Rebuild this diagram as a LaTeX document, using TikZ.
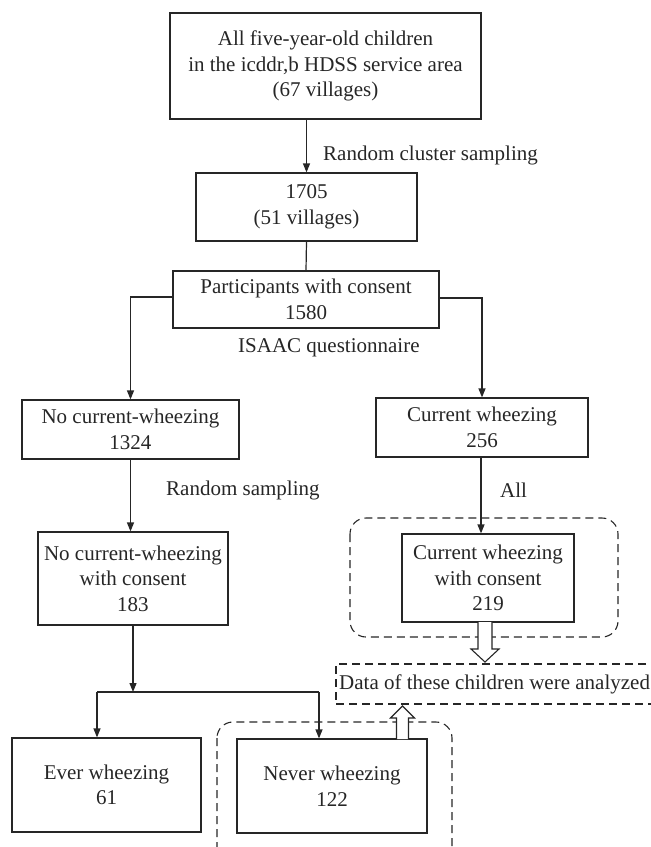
\documentclass[tikz,border=0pt]{standalone}
\usepackage{fontspec}
\setmainfont{Liberation Serif}
\usetikzlibrary{arrows.meta,calc}
\begin{document}
\begin{tikzpicture}[x=1pt,y=-1pt,
  every node/.style={font=\fontsize{21}{25.5}\selectfont,text=black!85},
  box/.style={draw=black!85,line width=1.2pt,align=center,inner sep=0pt},
  lbl/.style={inner sep=0pt,anchor=west},
  conn/.style={draw=black!85,line width=1.2pt},
  arr/.style={draw=black!85,line width=1.2pt,-{Triangle[length=9pt,width=7pt]}},
  dbox/.style={draw=black!85,line width=1.1pt,dash pattern=on 8pt off 5pt,rounded corners=16pt},
  hollow/.style={draw=black!85,line width=1.1pt,fill=white}]
\clip (0,0) rectangle (651,847);
\useasboundingbox (0,0) rectangle (651,847);
% boxes
\node[box,minimum width=311pt,minimum height=106pt] (top) at (325.5,66) {All five-year-old children\\in the icddr,b HDSS service area\\(67 villages)};
\node[box,minimum width=221pt,minimum height=68pt] (n1705) at (306.5,207) {1705\\(51 villages)};
\node[box,minimum width=266pt,minimum height=57pt] (part) at (306,299.5) {Participants with consent\\1580};
\node[box,minimum width=217pt,minimum height=59pt] (nocw) at (130.5,429.5) {No current-wheezing\\1324};
\node[box,minimum width=212pt,minimum height=59pt] (cw) at (482,427.5) {Current wheezing\\256};
\node[box,minimum width=190pt,minimum height=93pt] (nocwc) at (133,578.5) {No current-wheezing\\with consent\\183};
\node[box,minimum width=172pt,minimum height=88pt] (cwc) at (488,578) {Current wheezing\\with consent\\219};
\node[box,minimum width=189pt,minimum height=94pt] (ever) at (106.5,785) {Ever wheezing\\61};
\node[box,minimum width=190pt,minimum height=94pt] (never) at (332,786) {Never wheezing\\122};
% dashed groupings
\draw[dbox] (350,518) rectangle (618,637);
\draw[dbox] (217,722) rectangle (452,870);
\node[draw=black!85,line width=1.1pt,dash pattern=on 8pt off 5pt,minimum width=330pt,minimum height=40pt,inner sep=0pt] (data) at (501,684) {};
\node[lbl] (datat) at (339,684) {Data of these children were analyzed};
% labels
\node[lbl] (l1) at (323,155) {Random cluster sampling};
\node[lbl] (l2) at (238,348) {ISAAC questionnaire};
\node[lbl] (l3) at (166,490) {Random sampling};
\node[lbl] (l4) at (500,490) {All};
% connectors
\draw[arr] (top.south -| n1705.north) -- (n1705.north);
\draw[conn] (n1705.south) -- (part.north);
\draw[arr] ([yshift=2.5pt]part.west) -| (nocw.north);
\draw[arr] ([yshift=1.5pt]part.east) -| (cw.north);
\draw[arr] (nocw.south) -- (nocw.south |- nocwc.north);
\draw[arr] ([xshift=-1pt]cw.south) -- ([xshift=-1pt]cw.south |- cwc.north);
\coordinate (br) at (133,692);
\coordinate (bl) at (97,692);
\coordinate (bR) at (319,692);
\draw[arr] (nocwc.south) -- (br);
\draw[conn] (bl) -- (bR);
\draw[arr] (bl) -- (bl |- ever.north);
\draw[arr] (bR) -- (bR |- never.north);
% hollow arrows
\coordinate (ha) at (485,622);
\coordinate (hb) at (402.5,739);
\draw[hollow] ($(ha)+(-7,0)$) -- ($(ha)+(-7,27)$) -- ($(ha)+(-14,27)$) -- ($(ha)+(0,40)$) -- ($(ha)+(14,27)$) -- ($(ha)+(7,27)$) -- ($(ha)+(7,0)$);
\draw[hollow] ($(hb)+(-6,0)$) -- ($(hb)+(-6,-21)$) -- ($(hb)+(-12,-21)$) -- ($(hb)+(0,-33)$) -- ($(hb)+(12,-21)$) -- ($(hb)+(6,-21)$) -- ($(hb)+(6,0)$);
\end{tikzpicture}
\end{document}
